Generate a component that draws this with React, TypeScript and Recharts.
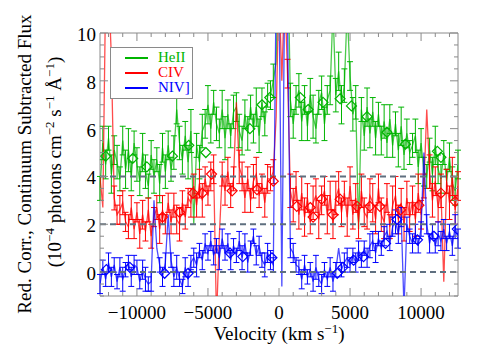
import {
  ComposedChart,
  Line,
  Scatter,
  XAxis,
  YAxis,
  ErrorBar,
  ReferenceLine,
  ReferenceArea,
  Legend,
  Label,
} from "recharts";

// velocity grid (km/s)
const velocity = [
  -12600, -12400, -12200, -12000, -11800, -11600, -11400, -11200, -11000, -10800,
  -10600, -10400, -10200, -10000, -9800, -9600, -9400, -9200, -9000, -8800,
  -8600, -8400, -8200, -8000, -7800, -7600, -7400, -7200, -7000, -6800,
  -6600, -6400, -6200, -6000, -5800, -5600, -5400, -5200, -5000, -4800,
  -4600, -4400, -4200, -4000, -3800, -3600, -3400, -3200, -3000, -2800,
  -2600, -2400, -2200, -2000, -1800, -1600, -1400, -1200, -1000, -800,
  -600, -400, -200, 0, 200, 400, 600, 800, 1000, 1200,
  1400, 1600, 1800, 2000, 2200, 2400, 2600, 2800, 3000, 3200,
  3400, 3600, 3800, 4000, 4200, 4400, 4600, 4800, 5000, 5200,
  5400, 5600, 5800, 6000, 6200, 6400, 6600, 6800, 7000, 7200,
  7400, 7600, 7800, 8000, 8200, 8400, 8600, 8800, 9000, 9200,
  9400, 9600, 9800, 10000, 10200, 10400, 10600, 10800, 11000, 11200,
  11400, 11600, 11800, 12000, 12200, 12400, 12600,
];

// HeII flux (1e-4 photons cm^-2 s^-1 A^-1)
const heII = [
  3.5, 5.4, 4.5, 5.6, 4.1, 5.1, 4.6, 3.9, 5.5, 4.3,
  5.1, 4.0, 5.4, 4.5, 3.8, 5.0, 4.2, 3.6, 4.9, 4.0,
  4.7, 3.7, 5.2, 4.2, 5.3, 4.3, 5.0, 6.8, 5.4, 4.7,
  5.7, 4.6, 5.9, 2.0, 5.3, 4.6, 5.9, 6.2, 7.0, 6.0,
  7.1, 6.2, 5.8, 6.8, 5.6, 6.6, 5.7, 6.7, 6.9, 5.9,
  5.5, 6.6, 5.8, 6.9, 6.0, 6.9, 5.7, 7.1, 6.2, 7.4,
  7.4, 8.0, 8.8, 14, 14, 14, 14, 7.2, 6.2, 7.2,
  7.6, 6.3, 7.2, 6.1, 7.4, 6.5, 6.0, 7.1, 7.5, 6.2,
  7.2, 7.6, 11, 7.4, 8.4, 7.0, 7.8, 11, 8.2, 6.6,
  7.1, 1.8, 6.8, 5.7, 6.9, 5.8, 6.7, 5.6, 6.6, 5.5,
  6.3, 5.4, 6.4, 5.3, 6.2, 5.1, 6.1, 4.9, 5.8, 5.0,
  5.3, 5.7, 4.4, 5.4, 4.2, 4.0, 5.1, 4.1, 5.3, 4.3,
  3.9, 5.0, 3.8, 4.8, 3.7, 3.4, 4.5,
];
const heIIErr = [
  0.5, 0.7, 0.6, 0.5, 0.8, 0.6, 0.7, 0.5, 0.6, 0.8,
  0.9, 0.6, 0.5, 0.7, 0.6, 0.8, 0.7, 0.5, 0.6, 0.7,
  0.5, 0.8, 0.6, 0.7, 0.6, 0.5, 0.7, 0.6, 0.7, 0.6,
  0.6, 0.7, 0.9, 0, 0.5, 0.7, 0.7, 0.6, 0.8, 0.6,
  0.5, 0.7, 0.6, 0.8, 0.9, 0.6, 0.5, 0.7, 0.6, 0.7,
  0.6, 0.6, 0.7, 0.5, 0.6, 0.8, 0.7, 0.6, 0.5, 0.5,
  0.6, 0.7, 0, 0, 0, 0, 0, 0.7, 0.6, 0.6,
  0.7, 0.8, 0.6, 0.6, 0.7, 0.9, 0.6, 0.5, 0.7, 0.7,
  0.6, 0.6, 0, 0.7, 0.8, 0.8, 0.7, 0, 0.6, 0.7,
  0.7, 0, 0.5, 0.6, 0.8, 0.6, 0.6, 0.7, 0.5, 0.6,
  0.7, 0.6, 0.6, 0.5, 0.5, 0.7, 0.8, 0.6, 0.6, 0.5,
  0.5, 0.7, 0.7, 0.6, 0.6, 0.5, 0.5, 0.7, 0.8, 0.6,
  0.6, 0.5, 0.5, 0.6, 0.7, 0.6, 0.6,
];

// CIV flux
const cIV = [
  4.0, 2.7, 12, 12, 9.0, 3.1, 2.4, 2.6, 2.9, 2.1,
  1.9, 2.7, 1.8, 2.5, 1.6, 2.4, 1.7, 2.6, 1.5, 2.3,
  2.7, 1.8, 2.6, 2.0, 2.9, 2.1, 2.8, 2.2, 2.0, 2.9,
  2.3, 3.1, 2.9, 3.6, 2.8, 3.7, 3.0, 3.9, 3.2, 4.0,
  4.3, -2, 1.5, 4.1, 3.4, 4.2, 3.2, 3.9, 7.1, 4.4,
  4.0, 3.1, 3.9, 3.0, 3.8, 4.1, 3.2, 3.7, 2.9, 3.9,
  3.9, 4.2, 6.5, 12, 8.0, 12, 8.3, 3.4, 2.8, 3.6,
  2.4, 3.3, 2.3, 3.1, 2.1, 2.9, 3.2, 2.2, 3.0, 3.4,
  2.4, 3.2, 2.0, 3.1, 3.5, 2.5, 3.3, 2.3, 3.6, 2.4,
  3.1, 2.1, 3.4, 2.5, 2.3, 3.2, 2.9, 2.2, 3.5, 2.4,
  2.1, 3.1, 1.9, 2.8, 3.2, 2.2, 2.9, 2.0, 3.1, 2.3,
  3.0, 2.2, 3.3, 2.4, 3.6, 6.8, 4.2, 3.0, 3.8, 2.7,
  3.4, -0.4, 3.8, 2.9, 4.0, 2.6, 3.6,
];
const cIVErr = [
  0, 0, 0, 0, 0, 0.5, 0.4, 0.6, 0.5, 0.4,
  0.5, 0.5, 0.4, 0.4, 0.6, 0.6, 0.4, 0.5, 0.5, 0.4,
  0.5, 0.6, 0.6, 0.4, 0.4, 0.5, 0.5, 0.6, 0.7, 0.5,
  0.5, 0.4, 0.6, 0.5, 0.5, 0.6, 0.7, 0.5, 0.4, 0.6,
  0.6, 0, 0, 0.5, 0.6, 0.6, 0.5, 0.5, 0, 0.7,
  0.6, 0.6, 0.5, 0.5, 0.7, 0.7, 0.5, 0.4, 0.6, 0.6,
  0.5, 0.5, 0, 0, 0, 0, 0.6, 0.7, 0.7, 0.6,
  0.6, 0.7, 0.8, 0.6, 0.5, 0.7, 0.7, 0.8, 0.6, 0.6,
  0.8, 0.6, 0.6, 0.7, 0.7, 0.6, 0.5, 0.8, 0.8, 0.6,
  0.6, 0.7, 0.7, 0.6, 0.5, 0.7, 0.8, 0.6, 0.6, 0.7,
  0.7, 0.6, 0.5, 0.8, 0.8, 0.6, 0.6, 0.7, 0.7, 0.6,
  0.6, 0.7, 0.8, 0.6, 0.5, 0, 0.7, 0.7, 0.6, 0.6,
  0.7, 0, 0.5, 0.7, 0.8, 0.6, 0.6,
];

// NIV] flux
const nIV = [
  -0.5, 0.2, -0.3, 0.4, -0.2, 0.3, -0.4, 0.2, -0.3, 0.1,
  0.4, -0.2, 0.3, 0.2, -0.4, 0.1, -0.3, -0.5, -0.4, 3.0,
  1.0, 0.3, -0.2, 0.4, 2.4, 0.5, -0.2, 0.2, -0.3, -0.6,
  0.2, -0.3, 0.4, 0.6, 0.3, 0.9, 0.5, 1.2, 0.8, 1.3,
  0.7, 1.1, 0.6, 1.4, 0.8, 1.2, 0.5, 1.1, 0.7, 1.3,
  0.6, 1.2, 0.4, 1.0, 1.5, 0.7, 1.1, 0.5, 0.3, 0.8,
  0.5, 0.3, 12, 12, -0.6, 12, 10.5, 1.0, 0.8, 0.3,
  0.2, -0.3, 0.3, -0.2, 0.1, -0.4, 0.2, -0.3, -0.5, 0.1,
  -0.3, 0.2, -0.4, 0.1, 1.0, 0.1, 0.4, 0.6, 0.3, 0.7,
  0.4, 0.9, 0.5, 1.0, 0.6, 1.1, 1.3, 0.8, 1.4, 1.0,
  1.5, 1.7, 1.2, 1.9, 2.1, 1.6, 2.3, -1.5, 2.0, 1.5,
  1.2, 1.6, 1.1, 1.8, 5.0, 2.0, 1.2, 1.7, 1.1, 1.6,
  1.3, 1.8, 1.2, 1.7, 1.1, 1.9, 1.4,
];
const nIVErr = [
  0.4, 0.3, 0.3, 0.4, 0.4, 0.3, 0.3, 0.4, 0.5, 0.3,
  0.3, 0.4, 0.4, 0.3, 0.3, 0.4, 0.5, 0.3, 0.4, 0,
  0, 0.3, 0.4, 0.4, 0, 0.3, 0.4, 0.5, 0.3, 0.3,
  0.4, 0.3, 0.3, 0.4, 0.5, 0.3, 0.4, 0.4, 0.3, 0.4,
  0.4, 0.3, 0.5, 0.4, 0.3, 0.4, 0.4, 0.3, 0.3, 0.4,
  0.5, 0.4, 0.4, 0.3, 0.3, 0.4, 0.4, 0.3, 0.5, 0.4,
  0.4, 0.3, 0, 0, 0, 0, 0, 0.4, 0.4, 0.3,
  0.3, 0.4, 0.4, 0.3, 0.3, 0.4, 0.5, 0.3, 0.4, 0.3,
  0.3, 0.4, 0.4, 0.3, 0, 0.3, 0.4, 0.4, 0.3, 0.3,
  0.4, 0.4, 0.3, 0.3, 0.4, 0.5, 0.4, 0.4, 0.3, 0.3,
  0.4, 0.3, 0.3, 0.4, 0.5, 0.4, 0.4, 0, 0.3, 0.3,
  0.4, 0.4, 0.3, 0.3, 0, 0.4, 0.4, 0.3, 0.3, 0.5,
  0.4, 0.4, 0.3, 0.3, 0.4, 0.5, 0.4,
];

// binned points (open diamonds)
const heIIBinV = [-12200, -10300, -9300, -7500, -6350, -5150, -2050, -1200, -650, 1500, 2050, 3100, 4300, 5100, 6200, 7600, 8900, 11150, 11400];
const heIIBinF = [4.85, 4.75, 4.4, 4.85, 5.3, 5.0, 6.0, 7.0, 7.3, 7.3, 6.8, 7.1, 7.25, 6.95, 6.5, 5.85, 5.35, 5.05, 4.8];
const cIVBinV = [-8200, -7000, -6050, -5400, -4750, -3300, -1550, -400, 1250, 2200, 2400, 3000, 3800, 4300, 5500, 6400, 7100, 8550, 9850, 11400, 12400];
const cIVBinF = [2.3, 2.5, 3.3, 3.3, 4.1, 3.4, 3.45, 3.8, 2.75, 2.7, 2.3, 3.05, 2.4, 3.05, 2.75, 2.75, 2.75, 2.6, 2.8, 3.3, 2.95];
const nIVBinV = [-12150, -10500, -8050, -6400, -3450, -2550, -500, 4100, 4500, 5250, 5950, 7500, 8300, 9750, 10900, 12550];
const nIVBinF = [0.1, 0.2, -0.05, -0.05, 0.8, 0.65, 0.6, -0.05, 0.2, 0.5, 0.65, 1.2, 2.2, 1.35, 1.5, 1.8];

const xTicks = [
  -12000, -11000, -10000, -9000, -8000, -7000, -6000, -5000, -4000, -3000, -2000, -1000,
  0, 1000, 2000, 3000, 4000, 5000, 6000, 7000, 8000, 9000, 10000, 11000, 12000,
];
const yTicks = [-1, -0.5, 0, 0.5, 1, 1.5, 2, 2.5, 3, 3.5, 4, 4.5, 5, 5.5, 6, 6.5, 7, 7.5, 8, 8.5, 9, 9.5, 10];
const refLevels = [0, 2, 4];
const legendOrder = ["HeII", "CIV", "NIV]"];

const GREEN = "#00b400";
const RED = "#ff0000";
const BLUE = "#0000ff";
const AXIS = "#8a8a8a";
const FONT = "'Liberation Serif', 'DejaVu Serif', serif";
const PLOT_W = 358;
const PLOT_H = 263;
const txt = { fontFamily: FONT, fontSize: 19, fill: "#000" };

const rows = velocity.map((v, i) => ({
  v,
  he: heII[i],
  heErr: heIIErr[i] || null,
  c: cIV[i],
  cErr: cIVErr[i] || null,
  n: nIV[i],
  nErr: nIVErr[i] || null,
}));
const heBins = heIIBinV.map((v, i) => ({ v, d: heIIBinF[i] }));
const cBins = cIVBinV.map((v, i) => ({ v, d: cIVBinF[i] }));
const nBins = nIVBinV.map((v, i) => ({ v, d: nIVBinF[i] }));

const fmt = (v: number) => (v < 0 ? "\u2212" + Math.abs(v) : String(v));

function XTick(props: any) {
  const { x, y, payload } = props;
  const major = payload.value % 5000 === 0;
  const len = major ? 8 : 4;
  return (
    <g>
      <line x1={x} y1={y} x2={x} y2={y - len} stroke={AXIS} />
      <line x1={x} y1={y - PLOT_H} x2={x} y2={y - PLOT_H + len} stroke={AXIS} />
      {major && (
        <text x={x} y={y + 23} textAnchor="middle" style={txt}>
          {fmt(payload.value)}
        </text>
      )}
    </g>
  );
}

function YTick(props: any) {
  const { x, y, payload } = props;
  const major = payload.value % 2 === 0;
  const len = major ? 8 : 4;
  return (
    <g>
      <line x1={x} y1={y} x2={x + len} y2={y} stroke={AXIS} />
      <line x1={x + PLOT_W} y1={y} x2={x + PLOT_W - len} y2={y} stroke={AXIS} />
      {major && payload.value >= 0 && (
        <text x={x - 4} y={y + 8} textAnchor="end" style={txt}>
          {fmt(payload.value)}
        </text>
      )}
    </g>
  );
}

function YTitle() {
  return (
    <g>
      <text transform="translate(31,164) rotate(-90)" textAnchor="middle" style={txt}>
        Red. Corr., Continuum Subtracted Flux
      </text>
      <text transform="translate(61,162) rotate(-90)" textAnchor="middle" style={txt}>
        (10<tspan dy={-7} style={{ fontSize: 13 }}>−4</tspan>
        <tspan dy={7}> photons cm</tspan>
        <tspan dy={-7} style={{ fontSize: 13 }}>−2</tspan>
        <tspan dy={7}> s</tspan>
        <tspan dy={-7} style={{ fontSize: 13 }}>−1</tspan>
        <tspan dy={7}> Å</tspan>
        <tspan dy={-7} style={{ fontSize: 13 }}>−1</tspan>
        <tspan dy={7}>)</tspan>
      </text>
    </g>
  );
}

function XTitle() {
  return (
    <text x={279} y={340} textAnchor="middle" style={txt}>
      Velocity (km s<tspan dy={-7} style={{ fontSize: 13 }}>−1</tspan>
      <tspan dy={7}>)</tspan>
    </text>
  );
}

function LegendBox({ payload }: any) {
  const items = legendOrder
    .map((name) => (payload || []).find((e: any) => e.value === name))
    .filter(Boolean);
  return (
    <div
      style={{
        position: "relative",
        width: 83,
        height: 52,
        boxSizing: "border-box",
        border: `1px solid ${AXIS}`,
        background: "#fff",
        fontFamily: FONT,
        fontSize: 15,
      }}
    >
      {items.map((e: any, i: number) => (
        <div
          key={e.value}
          style={{ position: "absolute", left: 0, top: 2 + i * 15, height: 15, display: "flex", alignItems: "center" }}
        >
          <span style={{ display: "inline-block", width: 23, marginLeft: 14, borderTop: `2px solid ${e.color}` }} />
          <span style={{ color: e.color, marginLeft: 10, lineHeight: "15px" }}>{e.value}</span>
        </div>
      ))}
    </div>
  );
}

function Diamond(props: any) {
  const { cx, cy, color } = props;
  if (cx == null || cy == null) return <g />;
  const s = 5;
  return (
    <polygon
      points={`${cx},${cy - s} ${cx + s},${cy} ${cx},${cy + s} ${cx - s},${cy}`}
      fill="none"
      stroke={color}
      strokeWidth={1.2}
    />
  );
}

export default function App() {
  return (
    <div style={{ position: "absolute", left: 0, top: 0 }}>
      <ComposedChart width={488} height={360} data={rows} margin={{ top: 33, right: 30, bottom: 0, left: 0 }}>
        <XAxis
          dataKey="v"
          type="number"
          domain={[-12600, 12600]}
          allowDataOverflow
          ticks={xTicks}
          interval={0}
          tickSize={0}
          tickMargin={0}
          axisLine={false}
          tickLine={false}
          height={64}
          tick={XTick}
        >
          <Label content={XTitle} />
        </XAxis>
        <YAxis
          type="number"
          domain={[-1, 10]}
          allowDataOverflow
          ticks={yTicks}
          interval={0}
          tickSize={0}
          tickMargin={0}
          axisLine={false}
          tickLine={false}
          width={100}
          tick={YTick}
        >
          <Label content={YTitle} />
        </YAxis>
        <ReferenceArea x1={-12600} x2={12600} y1={-1} y2={10} fill="none" stroke={AXIS} strokeWidth={1} />
        <Line dataKey="he" name="HeII" stroke={GREEN} strokeOpacity={0.7} strokeWidth={1.3} dot={false} activeDot={false} isAnimationActive={false}>
          <ErrorBar dataKey="heErr" direction="y" width={3} stroke={GREEN} strokeWidth={1} isAnimationActive={false} />
        </Line>
        <Line dataKey="c" name="CIV" stroke={RED} strokeOpacity={0.7} strokeWidth={1.3} dot={false} activeDot={false} isAnimationActive={false}>
          <ErrorBar dataKey="cErr" direction="y" width={3} stroke={RED} strokeWidth={1} isAnimationActive={false} />
        </Line>
        <Line dataKey="n" name="NIV]" stroke={BLUE} strokeOpacity={0.7} strokeWidth={1.3} dot={false} activeDot={false} isAnimationActive={false}>
          <ErrorBar dataKey="nErr" direction="y" width={3} stroke={BLUE} strokeWidth={1} isAnimationActive={false} />
        </Line>
        <Scatter data={heBins} dataKey="d" legendType="none" isAnimationActive={false} shape={(p: any) => <Diamond {...p} color={GREEN} />} />
        <Scatter data={cBins} dataKey="d" legendType="none" isAnimationActive={false} shape={(p: any) => <Diamond {...p} color={RED} />} />
        <Scatter data={nBins} dataKey="d" legendType="none" isAnimationActive={false} shape={(p: any) => <Diamond {...p} color={BLUE} />} />
        {refLevels.map((lv) => (
          <ReferenceLine key={lv} y={lv} stroke="#5f6f7f" strokeWidth={2} strokeDasharray="6 4" />
        ))}
        <Legend
          layout="vertical"
          align="center"
          verticalAlign="middle"
          content={LegendBox}
          wrapperStyle={{ left: 110, top: 47, width: 83, height: 52 }}
        />
      </ComposedChart>
    </div>
  );
}
